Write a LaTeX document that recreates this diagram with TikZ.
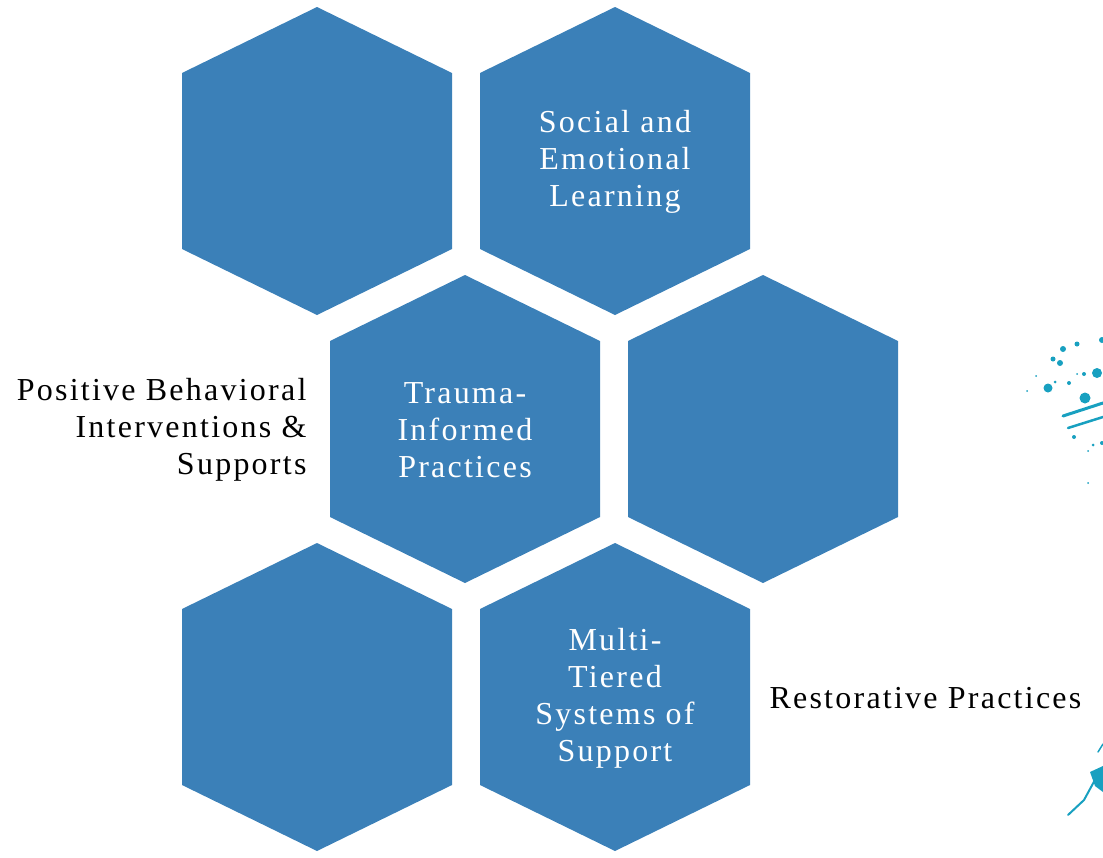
\documentclass[tikz,border=0pt]{standalone}
\usepackage{fontspec}
\setmainfont{Liberation Serif}[LetterSpace=7]
\usetikzlibrary{positioning}

\definecolor{hexblue}{RGB}{59,128,184}
\definecolor{splash}{RGB}{24,160,192}

\tikzset{
  hex/.style={fill=hexblue, draw=none},
  hexlabel/.style={text=white, align=center, font=\fontsize{32}{37}\selectfont},
  sidelabel/.style={text=black, font=\fontsize{32}{37}\selectfont},
  drop/.style={fill=splash, draw=none},
  streak/.style={draw=splash, line width=3pt, line cap=round},
}

\begin{document}
\begin{tikzpicture}[x=1pt, y=-1pt]
\useasboundingbox (0,0) rectangle (1103,857);

% honeycomb
\foreach \cx/\cy in {317/161, 615/161, 465/429, 763/429, 317/697, 615/697} {
  \fill[hex] (\cx,\cy-154) -- (\cx+135,\cy-88) -- (\cx+135,\cy+88)
    -- (\cx,\cy+154) -- (\cx-135,\cy+88) -- (\cx-135,\cy-88) -- cycle;
}

% labels in the cells
\node[hexlabel] (sel)  at (615,162) {Social and\\Emotional\\Learning};
\node[hexlabel] (tip)  at (465,430) {Trauma-\\Informed\\Practices};
\node[hexlabel] (mtss) at (615,698) {Multi-\\Tiered\\Systems of\\Support};

% labels beside the cells
\node[sidelabel, align=right, anchor=east] (pbis) at (310,430)
  {Positive Behavioral\\Interventions \&\\Supports};
\node[sidelabel, anchor=west] (rp) at (766,698) {Restorative Practices};

% ink splashes on the right edge
\foreach \x/\y/\r in {1063/349/3, 1077/344/2.5, 1053/359/2.5, 1060/363/3,
    1048/388/4.5, 1055/382/1.5, 1069/383/2, 1085/398/5.5, 1097/373/5,
    1102/340/3, 1084/374/2, 1077/374/1, 1074/437/2, 1093/445/1.5,
    1102/443/2, 1088/451/1, 1027/391/1, 1036/376/1, 1088/483/1} {
  \fill[drop] (\x,\y) circle[radius=\r];
}
\draw[streak] (1063,416) -- (1103,403);
\draw[streak, line width=2.5pt] (1068,428) -- (1103,417);
\draw[streak, line width=2pt] (1068,815) -- (1084,800) -- (1096,778);
\fill[drop] (1090,772) -- (1103,766) -- (1103,792) -- (1095,786) -- cycle;
\draw[streak, line width=1.5pt] (1098,752) -- (1103,744);

\end{tikzpicture}
\end{document}
